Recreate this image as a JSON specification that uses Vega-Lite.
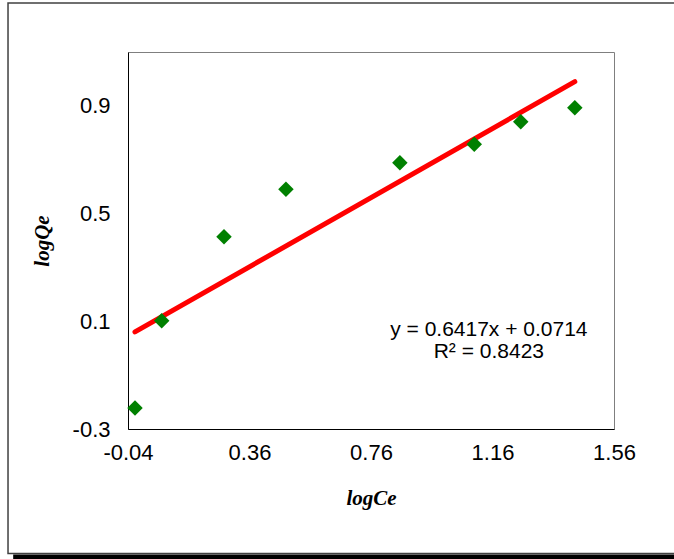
{
  "$schema": "https://vega.github.io/schema/vega-lite/v6.json",
  "width": 486,
  "height": 377,
  "autosize": {"type": "none"},
  "padding": {"left": 128, "top": 52, "right": 60, "bottom": 130},
  "background": "white",
  "config": {
    "view": {"stroke": "#7f7f7f", "strokeWidth": 1},
    "axis": {
      "domainColor": "black",
      "domainWidth": 1,
      "ticks": false,
      "grid": false,
      "labelFlush": false,
      "labelOverlap": false,
      "labelFont": "Liberation Sans",
      "labelFontSize": 22,
      "labelColor": "black",
      "titleFont": "Liberation Serif",
      "titleFontSize": 21,
      "titleFontStyle": "italic",
      "titleFontWeight": "bold",
      "titleColor": "black"
    }
  },
  "datasets": {
    "points": [
      {"logCe": -0.017, "logQe": -0.222},
      {"logCe": 0.071, "logQe": 0.102},
      {"logCe": 0.276, "logQe": 0.414},
      {"logCe": 0.48, "logQe": 0.59},
      {"logCe": 0.855, "logQe": 0.689},
      {"logCe": 1.1, "logQe": 0.757},
      {"logCe": 1.253, "logQe": 0.841},
      {"logCe": 1.431, "logQe": 0.893}
    ],
    "trend": [
      {"logCe": -0.017, "logQe": 0.0605},
      {"logCe": 1.431, "logQe": 0.9897}
    ],
    "labels": [
      {"logCe": 1.148, "logQe": 0.0676, "label": "y = 0.6417x + 0.0714"},
      {"logCe": 1.148, "logQe": -0.0141, "label": "R² = 0.8423"}
    ]
  },
  "layer": [
    {
      "data": {"values": [{}]},
      "mark": {"type": "rect", "fill": null, "stroke": "#404040", "strokeWidth": 1.5, "clip": false},
      "encoding": {
        "x": {"datum": -0.435, "type": "quantitative", "scale": {"domain": [-0.04, 1.56], "nice": false, "zero": false}},
        "x2": {"datum": 1.8},
        "y": {"datum": 1.282, "type": "quantitative", "scale": {"domain": [-0.3, 1.1], "nice": false, "zero": false}},
        "y2": {"datum": -0.762}
      }
    },
    {
      "data": {"values": [{}]},
      "mark": {"type": "rect", "fill": "black", "clip": false},
      "encoding": {
        "x": {"datum": -0.418, "type": "quantitative"},
        "x2": {"datum": 1.8},
        "y": {"datum": -0.766, "type": "quantitative"},
        "y2": {"datum": -0.85}
      }
    },
    {
      "data": {"name": "trend"},
      "mark": {"type": "line", "color": "#ff0000", "strokeWidth": 5, "strokeCap": "round"},
      "encoding": {
        "x": {
          "field": "logCe", "type": "quantitative",
          "scale": {"domain": [-0.04, 1.56], "nice": false, "zero": false},
          "axis": {
            "values": [-0.04, 0.36, 0.76, 1.16, 1.56],
            "labelExpr": "datum.value < 0 ? '-' + format(-datum.value, '.2f') : format(datum.value, '.2f')",
            "labelPadding": 13,
            "titlePadding": 24,
            "title": "logCe"
          }
        },
        "y": {
          "field": "logQe", "type": "quantitative",
          "scale": {"domain": [-0.3, 1.1], "nice": false, "zero": false},
          "axis": {
            "values": [-0.3, 0.1, 0.5, 0.9],
            "labelExpr": "datum.value < 0 ? '-' + format(-datum.value, '.1f') : format(datum.value, '.1f')",
            "labelPadding": 18,
            "titlePadding": 20,
            "title": "logQe"
          }
        }
      }
    },
    {
      "data": {"name": "points"},
      "mark": {"type": "point", "shape": "diamond", "filled": true, "color": "#008000", "size": 240, "opacity": 1},
      "encoding": {
        "x": {"field": "logCe", "type": "quantitative"},
        "y": {"field": "logQe", "type": "quantitative"}
      }
    },
    {
      "data": {"name": "labels"},
      "mark": {"type": "text", "font": "Liberation Sans", "fontSize": 21, "color": "black", "align": "center", "baseline": "middle"},
      "encoding": {
        "x": {"field": "logCe", "type": "quantitative"},
        "y": {"field": "logQe", "type": "quantitative"},
        "text": {"field": "label"}
      }
    }
  ]
}
